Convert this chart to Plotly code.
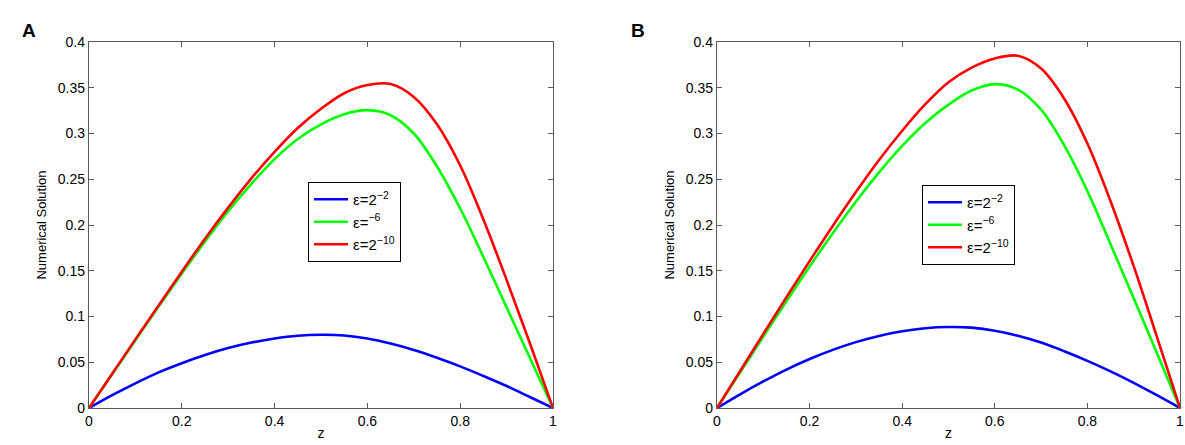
import plotly.graph_objects as go

# sample positions along z (shared by all curves)
z = [0, 0.05, 0.1, 0.15, 0.2, 0.25, 0.3, 0.35, 0.4, 0.45, 0.5,
     0.55, 0.6, 0.65, 0.7, 0.75, 0.8, 0.85, 0.9, 0.95, 1.0]

# panel A values
a_blue = [0, 0.014, 0.027, 0.039, 0.049, 0.058, 0.0655, 0.0715, 0.076, 0.079, 0.080,
          0.0793, 0.076, 0.0705, 0.0635, 0.055, 0.0455, 0.035, 0.024, 0.012, 0]
a_green = [0, 0.037, 0.074, 0.111, 0.147, 0.182, 0.215, 0.245, 0.272, 0.294, 0.310,
           0.321, 0.3255, 0.320, 0.300, 0.264, 0.218, 0.165, 0.110, 0.055, 0]
a_red = [0, 0.0375, 0.075, 0.112, 0.149, 0.185, 0.219, 0.251, 0.280, 0.306, 0.327,
         0.344, 0.353, 0.354, 0.340, 0.310, 0.265, 0.206, 0.140, 0.071, 0]

# panel B values
b_blue = [0, 0.015, 0.029, 0.042, 0.0535, 0.0635, 0.072, 0.0788, 0.0838, 0.0872, 0.0885,
          0.0878, 0.0845, 0.079, 0.0715, 0.062, 0.0515, 0.040, 0.0275, 0.014, 0]
b_green = [0, 0.039, 0.078, 0.1165, 0.1545, 0.191, 0.2255, 0.2575, 0.2865, 0.3115, 0.3315,
           0.347, 0.354, 0.348, 0.326, 0.287, 0.237, 0.179, 0.120, 0.060, 0]
b_red = [0, 0.0405, 0.081, 0.121, 0.1605, 0.199, 0.236, 0.271, 0.303, 0.332, 0.356,
         0.372, 0.382, 0.385, 0.371, 0.338, 0.289, 0.226, 0.155, 0.078, 0]

names = ["ε=2<sup>−2</sup>", "ε=<sup>−6</sup>", "ε=2<sup>−10</sup>"]
colors = ["#0000ff", "#00ff00", "#ff0000"]

x_ticks = [0, 0.2, 0.4, 0.6, 0.8, 1]
x_labels = ["0", "0.2", "0.4", "0.6", "0.8", "1"]
y_ticks = [0, 0.05, 0.1, 0.15, 0.2, 0.25, 0.3, 0.35, 0.4]
y_labels = ["0", "0.05", "0.1", "0.15", "0.2", "0.25", "0.3", "0.35", "0.4"]

FONT = "Liberation Sans, Arial, sans-serif"
AXIS_COL = "#5a5a5a"

W, H = 1185, 445
L, R, T, B = 89, 5, 42, 37
PW, PH = W - L - R, H - T - B


def px_x(p):
    return (p - L) / PW


def px_y(p):
    return (H - B - p) / PH


fig = go.Figure()

panels = [
    ("x", "y", "legend", [a_blue, a_green, a_red]),
    ("x2", "y2", "legend2", [b_blue, b_green, b_red]),
]
for xa, ya, lg, series in panels:
    for name, col, vals in zip(names, colors, series):
        fig.add_trace(go.Scatter(x=z, y=vals, mode="lines", name=name,
                                 line=dict(color=col, width=2.6, shape="spline", smoothing=1.0),
                                 xaxis=xa, yaxis=ya, legend=lg))

axis_common = dict(showgrid=False, zeroline=False, showline=True, linecolor=AXIS_COL,
                   linewidth=1.3, mirror="ticks", ticks="inside", ticklen=5,
                   tickcolor=AXIS_COL, automargin=False,
                   tickfont=dict(size=14, color="black", family=FONT))

xt = dict(text="z", font=dict(size=14), standoff=0)
yt = dict(text="Numerical Solution", font=dict(size=13), standoff=8)

legend_common = dict(xanchor="left", yanchor="top", bgcolor="white",
                     bordercolor="black", borderwidth=1, itemwidth=34,
                     font=dict(size=15, family=FONT), tracegroupgap=0)

fig.update_layout(
    width=W, height=H,
    margin=dict(l=L, r=R, t=T, b=B),
    paper_bgcolor="white", plot_bgcolor="white",
    font=dict(family=FONT, color="black"),
    xaxis=dict(domain=[0, px_x(553)], range=[0, 1], tickvals=x_ticks,
               ticktext=x_labels, anchor="y", title=xt, **axis_common),
    yaxis=dict(domain=[0, 1], range=[0, 0.4], tickvals=y_ticks, ticktext=y_labels,
               anchor="x", title=yt, **axis_common),
    xaxis2=dict(domain=[px_x(717), 1], range=[0, 1], tickvals=x_ticks,
                ticktext=x_labels, anchor="y2", title=xt, **axis_common),
    yaxis2=dict(domain=[0, 1], range=[0, 0.4], tickvals=y_ticks, ticktext=y_labels,
                anchor="x2", title=yt, **axis_common),
    legend=dict(x=px_x(308), y=px_y(182), **legend_common),
    legend2=dict(x=px_x(922), y=px_y(185), **legend_common),
    annotations=[
        dict(text="<b>A</b>", x=px_x(20), y=px_y(18), xref="paper", yref="paper",
             showarrow=False, font=dict(size=19, family=FONT)),
        dict(text="<b>B</b>", x=px_x(638), y=px_y(18), xref="paper", yref="paper",
             showarrow=False, font=dict(size=19, family=FONT)),
    ],
)

fig.write_html("out.html", config={"displayModeBar": False},
               post_script="document.body.style.margin='0px';")
